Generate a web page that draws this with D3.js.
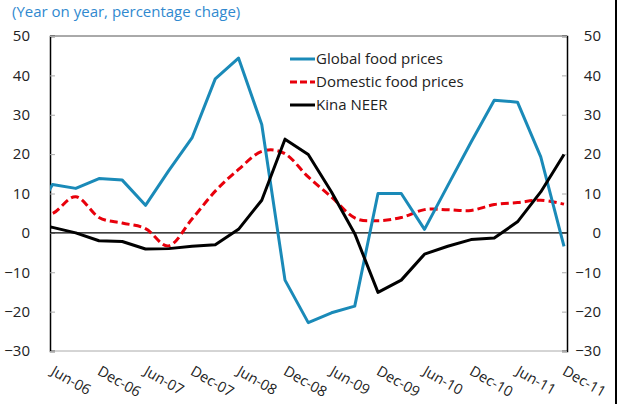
<!DOCTYPE html>
<html>
<head>
<meta charset="utf-8">
<script src="https://cdn.jsdelivr.net/npm/d3@7"></script>
<style>
  body { margin: 0; background: #fff; }
  svg { display: block; font-family: "Open Sans", "Noto Sans", sans-serif; }
</style>
</head>
<body>
<div id="chart"></div>
<script>
// quarterly observations; Mar-06 sits just left of the plot and is clipped
var quarters = ["Mar-06", "Jun-06", "Sep-06", "Dec-06", "Mar-07", "Jun-07", "Sep-07", "Dec-07",
  "Mar-08", "Jun-08", "Sep-08", "Dec-08", "Mar-09", "Jun-09", "Sep-09", "Dec-09",
  "Mar-10", "Jun-10", "Sep-10", "Dec-10", "Mar-11", "Jun-11", "Sep-11", "Dec-11"];

var globalFood = [1.8, 12.3, 11.3, 13.8, 13.4, 7.0, 15.8, 24.1, 39.1, 44.4, 27.5, -12.0,
  -22.8, -20.3, -18.6, 10.0, 10.0, 0.9, 12.0, 23.0, 33.7, 33.2, 19.3, -3.4];
var domesticFood = [4.0, 4.9, 9.2, 3.9, 2.5, 1.1, -3.3, 3.5, 10.6, 16.1, 20.7, 20.1,
  14.2, 9.1, 3.8, 3.1, 3.9, 5.9, 5.9, 5.7, 7.2, 7.7, 8.3, 7.3];
var kinaNeer = [2.5, 1.4, 0.0, -2.0, -2.2, -4.1, -4.0, -3.4, -3.0, 0.9, 8.3, 23.8,
  19.9, 10.4, -0.2, -15.1, -12.0, -5.4, -3.4, -1.7, -1.3, 2.8, 10.4, 19.9];

var xLabels = ["Jun-06", "Dec-06", "Jun-07", "Dec-07", "Jun-08", "Dec-08",
  "Jun-09", "Dec-09", "Jun-10", "Dec-10", "Jun-11", "Dec-11"];
var yTicks = [-30, -20, -10, 0, 10, 20, 30, 40, 50];

var seriesNames = ["Global food prices", "Domestic food prices", "Kina NEER"];

function drawChart() {
  var w = 619, h = 404;
  var left = 50, right = 567, top = 36, bottom = 351;

  var svg = d3.select("#chart").append("svg")
    .attr("width", w)
    .attr("height", h);

  var step = 23.25;
  var xScale = d3.scalePoint()
    .domain(quarters)
    .range([52.5 - step, 564]);

  var yScale = d3.scaleLinear()
    .domain([-30, 50])
    .range([bottom, top]);

  // title
  svg.append("text")
    .attr("x", 12)
    .attr("y", 17)
    .attr("fill", "#3089cf")
    .style("font-size", "15px")
    .text("(Year on year, percentage chage)");

  svg.append("clipPath").attr("id", "plotclip")
    .append("rect")
    .attr("x", left).attr("y", top)
    .attr("width", right - left).attr("height", bottom - top);

  // frame of plot
  svg.append("line").attr("x1", left).attr("x2", right).attr("y1", top).attr("y2", top)
    .attr("stroke", "#555").attr("stroke-width", 1);
  svg.append("line").attr("x1", left).attr("x2", right).attr("y1", bottom).attr("y2", bottom)
    .attr("stroke", "#aaa").attr("stroke-width", 1);

  // left axis
  var yLeft = d3.axisLeft(yScale).tickValues(yTicks).tickSize(-5).tickPadding(20);
  var gl = svg.append("g")
    .attr("transform", "translate(" + left + ",0)")
    .call(yLeft);

  // right axis
  var yRight = d3.axisRight(yScale).tickValues(yTicks).tickSize(-5).tickPadding(0);
  var gr = svg.append("g")
    .attr("transform", "translate(" + right + ",0)")
    .call(yRight);
  gr.selectAll("text").attr("x", 34).attr("text-anchor", "end");

  [gl, gr].forEach(function (g) {
    g.select(".domain").attr("stroke", "#000").attr("stroke-width", 1.5);
    g.selectAll(".tick line").attr("stroke", "#aaa");
    g.selectAll("text").attr("fill", "#222").style("font-size", "15px")
      .style("font-family", "'Open Sans', sans-serif");
  });

  // x axis labels
  var xAxis = d3.axisBottom(xScale).tickValues(xLabels).tickSize(0);
  var gx = svg.append("g")
    .attr("transform", "translate(0," + bottom + ")")
    .call(xAxis);
  gx.select(".domain").remove();
  gx.selectAll("text")
    .attr("x", 0).attr("y", 0).attr("dy", 0)
    .attr("text-anchor", "start")
    .attr("transform", "translate(-3,23) rotate(30)")
    .attr("fill", "#222")
    .style("font-size", "14.5px")
    .style("font-family", "'Open Sans', sans-serif");

  // zero line
  svg.append("line")
    .attr("x1", left).attr("x2", right)
    .attr("y1", yScale(0)).attr("y2", yScale(0))
    .attr("stroke", "#000").attr("stroke-width", 1.2);

  var plot = svg.append("g").attr("clip-path", "url(#plotclip)");

  var straight = d3.line()
    .x((d, i) => xScale(quarters[i]))
    .y((d) => yScale(d));
  var smooth = d3.line()
    .x((d, i) => xScale(quarters[i]))
    .y((d) => yScale(d))
    .curve(d3.curveCardinal.tension(0));

  plot.append("path").datum(domesticFood)
    .attr("d", smooth)
    .attr("fill", "none").attr("stroke", "#e8000b")
    .attr("stroke-width", 3).attr("stroke-dasharray", "8,4");

  plot.append("path").datum(globalFood)
    .attr("d", straight)
    .attr("fill", "none").attr("stroke", "#1a8ab8")
    .attr("stroke-width", 3).attr("stroke-linejoin", "round");

  plot.append("path").datum(kinaNeer)
    .attr("d", straight)
    .attr("fill", "none").attr("stroke", "#000")
    .attr("stroke-width", 3).attr("stroke-linejoin", "round");

  // legend
  var legendStyles = [
    {color: "#1a8ab8", dash: null},
    {color: "#e8000b", dash: "7,3"},
    {color: "#000", dash: null}
  ];
  var legend = svg.append("g");
  seriesNames.forEach(function (name, i) {
    var ly = 59 + i * 23;
    legend.append("line")
      .attr("x1", 290).attr("x2", 315)
      .attr("y1", ly).attr("y2", ly)
      .attr("stroke", legendStyles[i].color)
      .attr("stroke-width", 3)
      .attr("stroke-dasharray", legendStyles[i].dash);
    legend.append("text")
      .attr("x", 316).attr("y", ly + 5)
      .attr("fill", "#222")
      .style("font-size", "15px")
      .text(name);
  });

  // outer frame edge on the right
  svg.append("line")
    .attr("x1", 616).attr("x2", 616).attr("y1", 0).attr("y2", h)
    .attr("stroke", "#000").attr("stroke-width", 2);
}

window.onload = function () {
  drawChart();
};
</script>
</body>
</html>
